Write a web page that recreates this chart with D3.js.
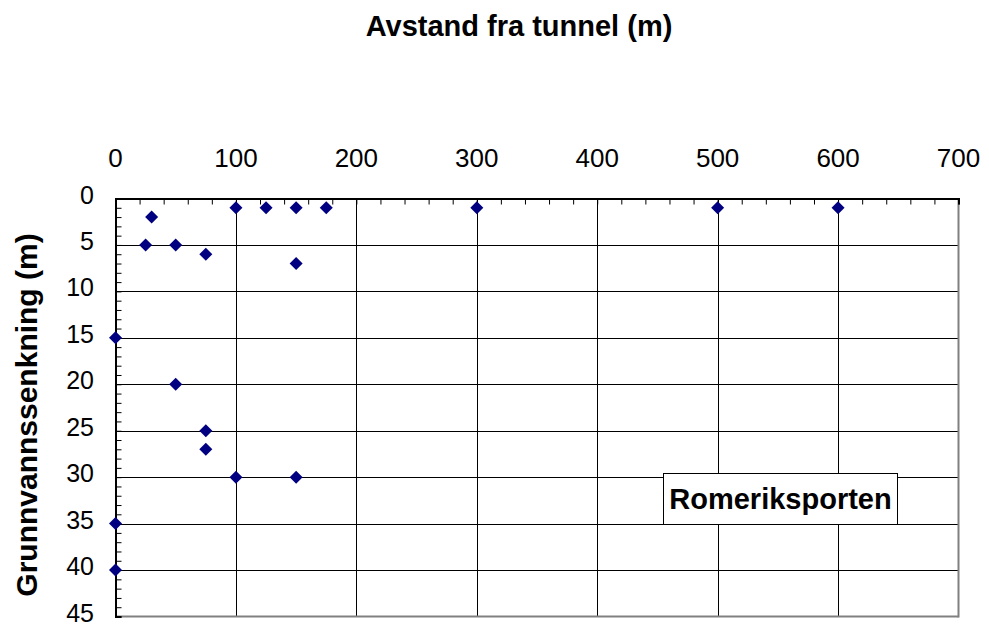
<!DOCTYPE html>
<html><head><meta charset="utf-8">
<script src="https://cdn.jsdelivr.net/npm/d3@7"></script>
<style>html,body{margin:0;padding:0;background:#fff;overflow:hidden;} svg{display:block;} text{font-family:"Liberation Sans",Arial,sans-serif;}</style>
</head><body>
<svg id="c" width="989" height="626"></svg>
<script>
const xValues = [100,125,150,175,300,500,600,30,25,50,75,150,0,50,75,75,100,150,0,0];
const yValues = [1,1,1,1,1,1,1,2,5,5,6,7,15,20,25,27,30,30,35,40];
const xTicks = [0,100,200,300,400,500,600,700];
const yTicks = [0,5,10,15,20,25,30,35,40,45];
const xTitle = "Avstand fra tunnel (m)";
const yTitle = "Grunnvannssenkning (m)";
const legendLabel = "Romeriksporten";

const svg = d3.select("#c");
const L=115.5, R=958.5, T=198.5, B=616.5;
const x = d3.scaleLinear().domain([0,700]).range([L,R]);
const y = d3.scaleLinear().domain([0,45]).range([T,B]);

// gridlines
svg.append("g").selectAll("line").data(xTicks.slice(1,-1)).join("line")
  .attr("x1",d=>Math.round(x(d))+0.5).attr("x2",d=>Math.round(x(d))+0.5).attr("y1",T).attr("y2",B)
  .attr("stroke","#000").attr("stroke-width",1);
svg.append("g").selectAll("line").data(yTicks.slice(1,-1)).join("line")
  .attr("y1",d=>Math.round(y(d))+0.5).attr("y2",d=>Math.round(y(d))+0.5).attr("x1",L).attr("x2",R)
  .attr("stroke","#000").attr("stroke-width",1);

// plot border right/bottom gray
svg.append("line").attr("x1",R).attr("x2",R).attr("y1",T).attr("y2",B+1).attr("stroke","#808080").attr("stroke-width",2);
svg.append("line").attr("x1",L).attr("x2",R).attr("y1",B).attr("y2",B).attr("stroke","#808080").attr("stroke-width",2);

// top axis
const xAxis = d3.axisTop(x).tickValues(d3.range(0,701,20)).tickSize(-6).tickFormat("");
const gx = svg.append("g").attr("transform",`translate(0,${T})`).call(xAxis);
gx.select(".domain").attr("stroke","#000").attr("stroke-width",2);
gx.selectAll(".tick line").attr("stroke","#000");
svg.append("g").selectAll("text").data(xTicks).join("text")
  .attr("x",d=>x(d)).attr("y",167).attr("text-anchor","middle")
  .attr("font-size",26).attr("fill","#000").text(d=>d);

// left axis
const yAxis = d3.axisLeft(y).tickValues(d3.range(0,46,1)).tickSize(-6).tickFormat("");
const gy = svg.append("g").attr("transform",`translate(${L},0)`).call(yAxis);
gy.select(".domain").attr("stroke","#000").attr("stroke-width",2);
gy.selectAll(".tick line").attr("stroke","#000");
svg.append("g").selectAll("text").data(yTicks).join("text")
  .attr("x",94).attr("y",d=>y(d)+5).attr("text-anchor","end")
  .attr("font-size",25).attr("fill","#000").text(d=>d);

// titles
svg.append("text").attr("x",519).attr("y",36).attr("text-anchor","middle")
  .attr("font-size",29).attr("font-weight","bold").text(xTitle);
svg.append("text").attr("transform","translate(37,415) rotate(-90)").attr("text-anchor","middle")
  .attr("font-size",30).attr("font-weight","bold").text(yTitle);

// markers
const pts = xValues.map((v,i)=>({x:v,y:yValues[i]}));
svg.append("g").selectAll("path").data(pts).join("path")
  .attr("d",d=>{const cx=x(d.x),cy=y(d.y),r=6.5;return `M${cx},${cy-r}L${cx+r},${cy}L${cx},${cy+r}L${cx-r},${cy}Z`;})
  .attr("fill","#000080");

// legend box
svg.append("rect").attr("x",663.5).attr("y",473.5).attr("width",234).attr("height",51)
  .attr("fill","#fff").attr("stroke","#000").attr("stroke-width",1);
svg.append("text").attr("x",780.5).attr("y",508.5).attr("text-anchor","middle")
  .attr("font-size",29).attr("font-weight","bold").text(legendLabel);
</script>
</body></html>
